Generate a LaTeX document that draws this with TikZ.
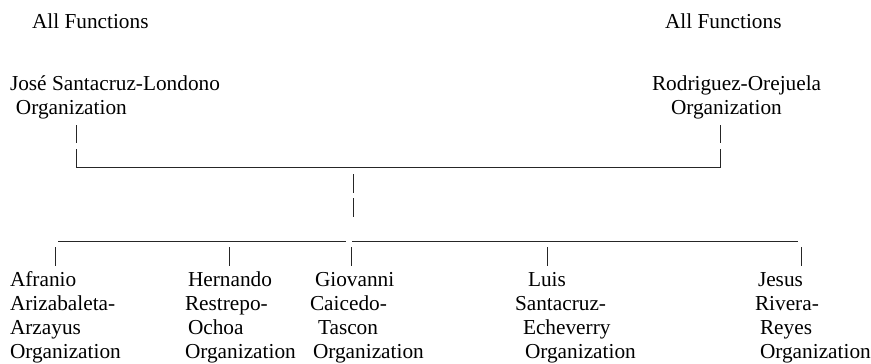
\documentclass[tikz,border=0pt]{standalone}
\usepackage{fontspec}
\setmainfont{Liberation Serif}
\begin{document}
\begin{tikzpicture}[x=1pt,y=-1pt,
  lbl/.style={anchor=base west,inner sep=0pt,outer sep=0pt,font=\fontsize{21.3}{24}\selectfont},
  ln/.style={line width=0.8pt,draw=black!85}]
\useasboundingbox (0,0) rectangle (871,364);
% top texts
\node[lbl] (af1) at (32,28) {All Functions};
\node[lbl] (af2) at (665,28) {All Functions};
\node[lbl] (js1) at (10,90) {José Santacruz-Londono};
\node[lbl] (js2) at (16,114) {Organization};
\node[lbl] (ro1) at (652,90) {Rodriguez-Orejuela};
\node[lbl] (ro2) at (671,114) {Organization};
% top connectors
\coordinate (L1) at (76,125); \coordinate (L2) at (76,143);
\coordinate (L3) at (76,149); \coordinate (L4) at (76,167);
\coordinate (R1) at (720,125); \coordinate (R2) at (720,143);
\coordinate (R3) at (720,149); \coordinate (R4) at (720,167);
\draw[ln] (L1) -- (L2);
\draw[ln] (L3) -- (L4) -- (R4) -- (R3);
\draw[ln] (R1) -- (R2);
\coordinate (C1) at (353,174); \coordinate (C2) at (353,193);
\coordinate (C3) at (353,198); \coordinate (C4) at (353,217);
\draw[ln] (C1) -- (C2);
\draw[ln] (C3) -- (C4);
% bottom horizontal
\coordinate (H1) at (58,241); \coordinate (H2) at (346,241);
\coordinate (H3) at (352,241); \coordinate (H4) at (798,241);
\draw[ln] (H1) -- (H2);
\draw[ln] (H3) -- (H4);
% bottom verticals
\foreach \n/\x in {a/55,b/229,c/351,d/547,e/801}{
  \coordinate (\n t) at (\x,247); \coordinate (\n b) at (\x,266);
  \draw[ln] (\n t) -- (\n b);
}
% bottom texts
\node[lbl] (a1) at (10,286) {Afranio};
\node[lbl] (a2) at (10,310) {Arizabaleta-};
\node[lbl] (a3) at (10,334) {Arzayus};
\node[lbl] (a4) at (10,358) {Organization};
\node[lbl] (b1) at (188,286) {Hernando};
\node[lbl] (b2) at (185,310) {Restrepo-};
\node[lbl] (b3) at (188,334) {Ochoa};
\node[lbl] (b4) at (185,358) {Organization};
\node[lbl] (c1) at (315,286) {Giovanni};
\node[lbl] (c2) at (310,310) {Caicedo-};
\node[lbl] (c3) at (318,334) {Tascon};
\node[lbl] (c4) at (313,358) {Organization};
\node[lbl] (d1) at (528,286) {Luis};
\node[lbl] (d2) at (515,310) {Santacruz-};
\node[lbl] (d3) at (523,334) {Echeverry};
\node[lbl] (d4) at (525,358) {Organization};
\node[lbl] (e1) at (758,286) {Jesus};
\node[lbl] (e2) at (755,310) {Rivera-};
\node[lbl] (e3) at (760,334) {Reyes};
\node[lbl] (e4) at (760,358) {Organization};
\end{tikzpicture}
\end{document}
